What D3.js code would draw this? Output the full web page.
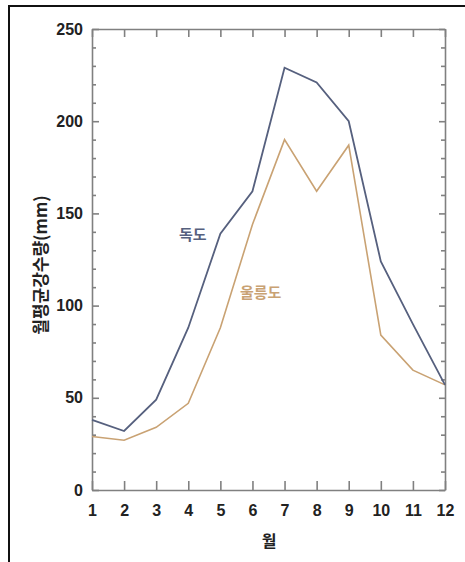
<!DOCTYPE html>
<html>
<head>
<meta charset="utf-8">
<script src="https://cdn.jsdelivr.net/npm/d3@7"></script>
<style>
  body { margin: 0; background: #fff; }
  .tick text { font-family: "Liberation Sans", Arial, sans-serif; font-size: 16px; font-weight: bold; fill: #222; }
</style>
</head>
<body>
<div id="chart"></div>
<script>
// monthly mean precipitation (mm)
var months = [1, 2, 3, 4, 5, 6, 7, 8, 9, 10, 11, 12];
var dokdo = [38, 32, 49, 88, 139, 162, 229, 221, 200, 124, 90, 57];
var ulleungdo = [29, 27, 34, 47, 88, 144, 190, 162, 187, 84, 65, 57];
var yTicks = [0, 50, 100, 150, 200, 250];

var width = 465,
	height = 562;

var svg = d3.select("#chart")
  .append("svg")
	.attr("width", width)
	.attr("height", height);

// outer frame, cut off at right and bottom like the scan
svg.append("rect")
	.attr("x", 9).attr("y", 6)
	.attr("width", 480).attr("height", 600)
	.attr("fill", "none")
	.attr("stroke", "#111")
	.attr("stroke-width", 2);

var x = d3.scaleLinear()
	.domain([1, 12])
	.range([92, 445]);

var y = d3.scaleLinear()
	.domain([0, 250])
	.range([490, 29]);

var minorTicks = d3.range(0, 251, 10).filter(function(d) { return d % 50 != 0; });
var axisColor = "#808080";

function styleAxis(g) {
	g.selectAll("path, line").attr("stroke", axisColor).attr("stroke-width", 1.6);
}

// left axis with labels
svg.append("g")
	.attr("transform", "translate(" + x(1) + ",0)")
	.call(d3.axisLeft(y).tickValues(yTicks).tickSizeInner(-7).tickSizeOuter(0).tickPadding(9))
	.call(styleAxis);
svg.append("g")
	.attr("transform", "translate(" + x(1) + ",0)")
	.call(d3.axisLeft(y).tickValues(minorTicks).tickSize(-4).tickFormat(""))
	.call(styleAxis)
	.select(".domain").remove();

// right axis
svg.append("g")
	.attr("transform", "translate(" + x(12) + ",0)")
	.call(d3.axisRight(y).tickValues(yTicks).tickSizeInner(-6).tickSizeOuter(0).tickFormat(""))
	.call(styleAxis);
svg.append("g")
	.attr("transform", "translate(" + x(12) + ",0)")
	.call(d3.axisRight(y).tickValues(minorTicks).tickSize(-4).tickFormat(""))
	.call(styleAxis)
	.select(".domain").remove();

// bottom axis with labels
svg.append("g")
	.attr("transform", "translate(0," + y(0) + ")")
	.call(d3.axisBottom(x).tickValues(months).tickSizeInner(-9).tickSizeOuter(0).tickPadding(15).tickFormat(d3.format("d")))
	.call(styleAxis);

// top axis
svg.append("g")
	.attr("transform", "translate(0," + y(250) + ")")
	.call(d3.axisTop(x).tickValues(months).tickSizeInner(-8).tickSizeOuter(0).tickFormat(""))
	.call(styleAxis);

var line = d3.line()
	.x(function(d, i) { return x(months[i]); })
	.y(function(d) { return y(d); });

svg.append("path")
	.datum(ulleungdo)
	.attr("d", line)
	.attr("fill", "none")
	.attr("stroke", "#c9a273")
	.attr("stroke-width", 1.6);

svg.append("path")
	.datum(dokdo)
	.attr("d", line)
	.attr("fill", "none")
	.attr("stroke", "#56607e")
	.attr("stroke-width", 1.8);

// series labels
svg.append("text")
	.attr("x", 179).attr("y", 240)
	.attr("font-family", "Noto Sans CJK KR")
	.attr("font-size", 15)
	.attr("font-weight", "bold")
	.attr("fill", "#56607e")
	.text("독도");

svg.append("text")
	.attr("x", 240).attr("y", 298)
	.attr("font-family", "Noto Sans CJK KR")
	.attr("font-size", 15)
	.attr("font-weight", "bold")
	.attr("fill", "#c9a273")
	.text("울릉도");

// axis titles
svg.append("text")
	.attr("transform", "translate(47,265) rotate(-90)")
	.attr("text-anchor", "middle")
	.attr("font-family", "Noto Sans CJK KR")
	.attr("font-size", 17)
	.attr("font-weight", "bold")
	.attr("fill", "#222")
	.text("월평균강수량(mm)");

svg.append("text")
	.attr("x", 269).attr("y", 547)
	.attr("text-anchor", "middle")
	.attr("font-family", "Noto Sans CJK KR")
	.attr("font-size", 16)
	.attr("font-weight", "bold")
	.attr("fill", "#222")
	.text("월");
</script>
</body>
</html>
